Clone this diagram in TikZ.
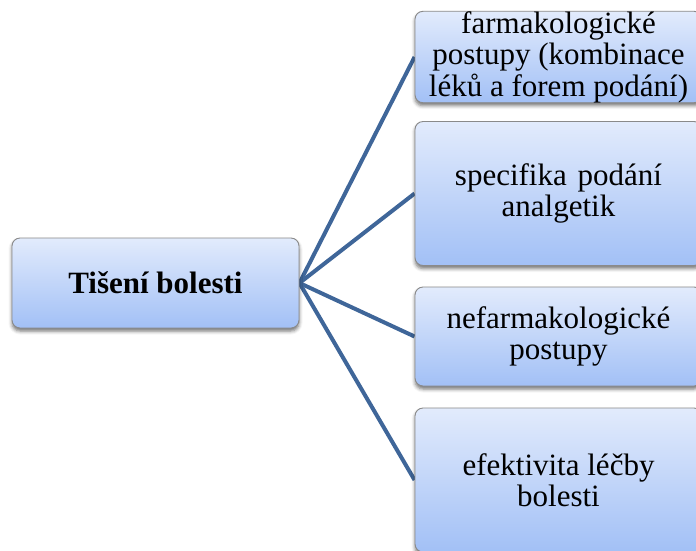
\documentclass[tikz,border=0pt]{standalone}
\usepackage{fontspec}
\setmainfont{Liberation Serif}
\usetikzlibrary{shadows.blur}
\definecolor{boxtop}{HTML}{E2EBFC}
\definecolor{boxbottom}{HTML}{A2C0F6}
\definecolor{boxedge}{HTML}{8A8A8A}
\definecolor{spokeblue}{HTML}{3F6699}
\pgfdeclarelayer{background}
\pgfsetlayers{background,main}
\begin{document}
\begin{tikzpicture}[x=1pt,y=-1pt,
  topicbox/.style={draw=boxedge, line width=0.9pt, rounded corners=8pt,
    top color=boxtop, bottom color=boxbottom,
    blur shadow={shadow xshift=0pt, shadow yshift=-3pt,
      shadow blur radius=3.5pt, shadow opacity=55},
    font=\fontsize{31}{31.5}\selectfont, align=center, inner sep=0pt,
    minimum width=287pt},
  spoke/.style={draw=spokeblue, line width=4pt}]
\clip (0,0) rectangle (696,550);
\useasboundingbox (0,0) rectangle (696,550);

% central topic
\node[topicbox, minimum height=90pt] (root) at (155.5,283) {\textbf{Tišení bolesti}};

% branches
\node[topicbox, minimum height=84pt] (b1) at (558.5,57)
  {farmakologické\\postupy (kombinace\\léků a forem podání)};
\node[topicbox, minimum height=144pt] (b2) at (558.5,193.5)
  {specifika\hspace{0.35em}podání\\analgetik};
\node[topicbox, minimum height=99pt] (b3) at (558.5,336.5)
  {nefarmakologické\\postupy};
\node[topicbox, minimum height=144pt] (b4) at (558.5,480)
  {efektivita léčby\\bolesti};

% connectors
\begin{pgfonlayer}{background}
\foreach \b in {b1,b2,b3,b4}
  \draw[spoke] (root.east) -- (\b.west);
\end{pgfonlayer}
\end{tikzpicture}
\end{document}
